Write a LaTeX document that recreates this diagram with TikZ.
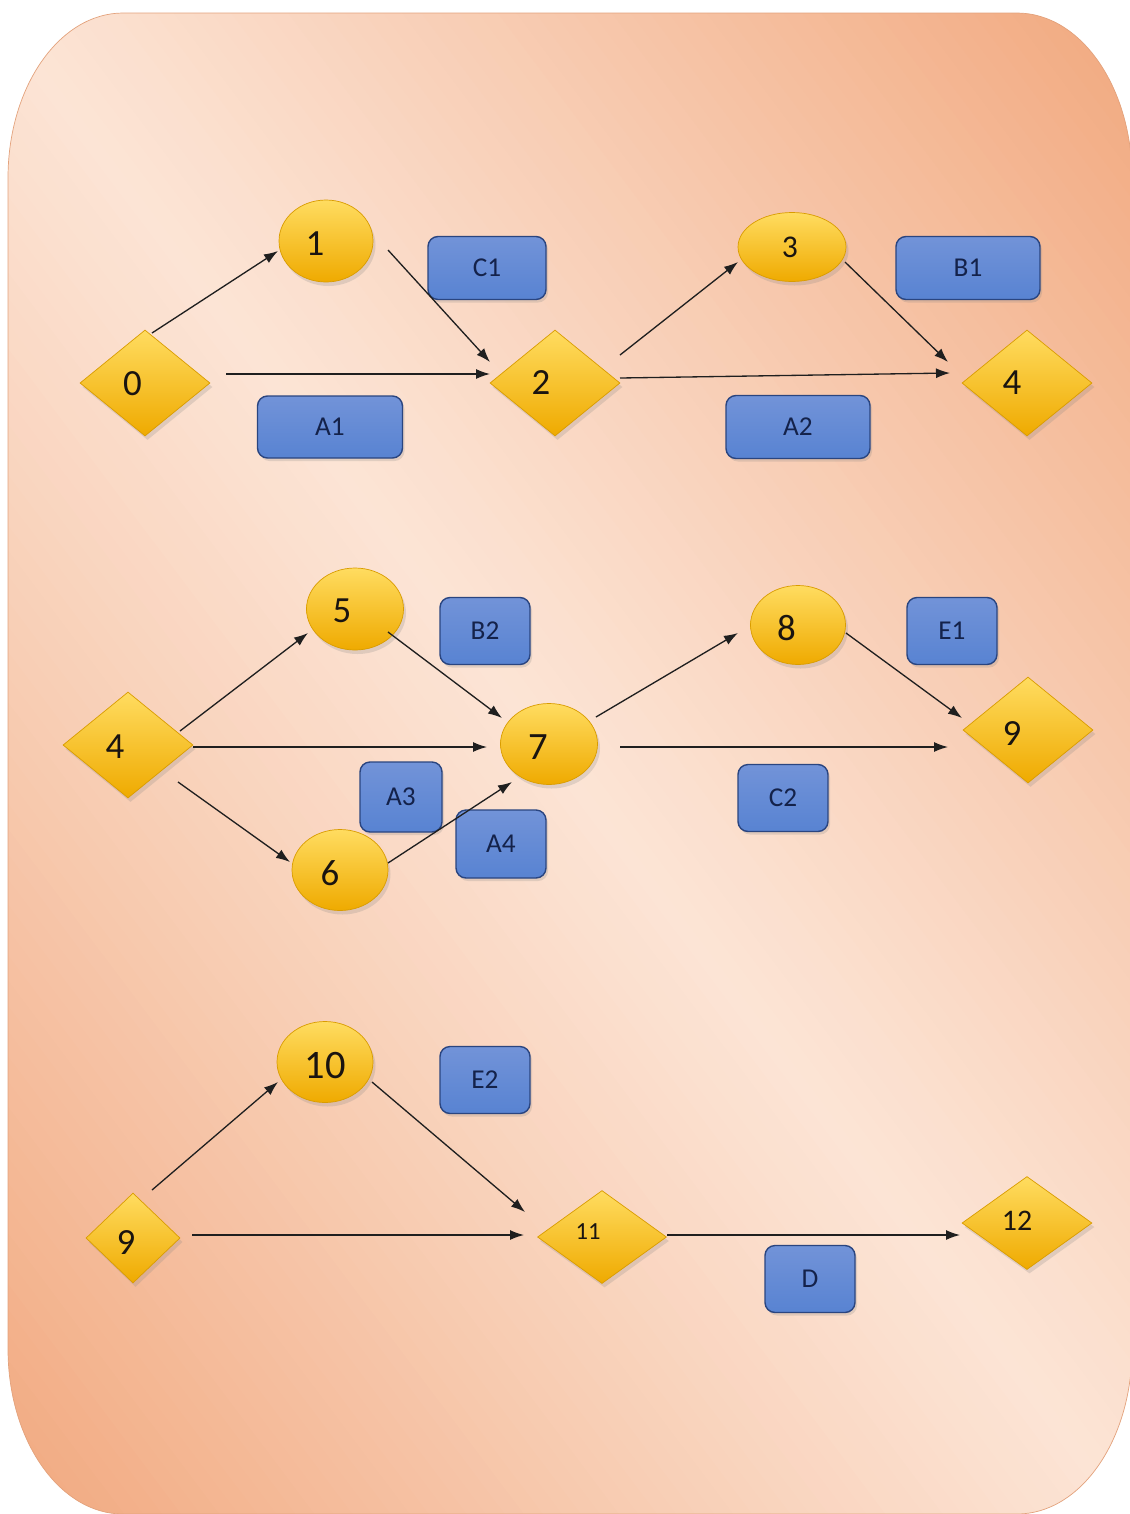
\documentclass[tikz,border=0pt]{standalone}
\usepackage{fontspec}
\setmainfont{Carlito}
\usetikzlibrary{shapes.geometric,arrows.meta,calc,shadows}
\definecolor{bgdark}{HTML}{F1A87E}
\definecolor{bglight}{HTML}{FCE4D5}
\definecolor{bgedge}{HTML}{E3A27C}
\definecolor{yelL}{HTML}{FFDC60}
\definecolor{yelM}{HTML}{FFC520}
\definecolor{yelD}{HTML}{EFAA00}
\definecolor{yelEdge}{HTML}{D99C00}
\definecolor{bluT}{HTML}{7293D8}
\definecolor{bluM}{HTML}{3B64B6}
\definecolor{bluB}{HTML}{5883D2}
\definecolor{bluEdge}{HTML}{2A4580}
\definecolor{navy}{HTML}{14224A}
\definecolor{numcol}{HTML}{1A1410}
\tikzset{
  yshape/.style={draw=yelEdge, line width=0.4pt, top color=yelL, middle color=yelM, bottom color=yelD,
    inner sep=0pt, drop shadow={opacity=0.22, shadow xshift=0.5mm, shadow yshift=-0.8mm}},
  dia/.style={yshape, diamond, minimum width=26mm, minimum height=21.2mm},
  ell/.style={yshape, ellipse, minimum width=19.2mm, minimum height=16.2mm},
  num/.style={font=\fontsize{21}{23}\selectfont, text=numcol, inner sep=0pt},
  bbox/.style={rectangle, rounded corners=2mm, draw=bluEdge, line width=0.8pt,
    top color=bluT, middle color=bluM, bottom color=bluB, text=navy,
    font=\fontsize{15.5}{17}\selectfont, minimum width=18mm, minimum height=13.4mm,
    drop shadow={opacity=0.22, shadow xshift=0.4mm, shadow yshift=-0.6mm}},
  arr/.style={-{Latex[length=2.8mm,width=2mm]}, line width=0.75pt, draw=black!88},
}
\begin{document}
\begin{tikzpicture}[x=0.2mm, y=-0.2mm]
\useasboundingbox (0,0) rectangle (1130,1514);
% background
\def\bgpath{(123,13) -- (1017,13) .. controls (1080.5,13) and (1132,86.9) .. (1132,178)
  -- (1132,1349) .. controls (1132,1440.1) and (1080.5,1514) .. (1017,1514)
  -- (123,1514) .. controls (59.5,1514) and (8,1440.1) .. (8,1349)
  -- (8,178) .. controls (8,86.9) and (59.5,13) .. (123,13) -- cycle}
\coordinate (bgc) at (565,763);
\begin{scope}
  \clip \bgpath;
  \foreach \i in {0,...,119}{
    \pgfmathsetmacro{\da}{-910+\i*15.2}
    \pgfmathsetmacro{\db}{\da+17}
    \pgfmathsetmacro{\dm}{abs(\da+7.6)/910}
    \pgfmathsetmacro{\pc}{min(100,100*(\dm^1.1))}
    \fill[bgdark!\pc!bglight]
      ($(bgc)+\da*(0.7993,-0.6017)+1200*(0.6017,0.7993)$) --
      ($(bgc)+\db*(0.7993,-0.6017)+1200*(0.6017,0.7993)$) --
      ($(bgc)+\db*(0.7993,-0.6017)-1200*(0.6017,0.7993)$) --
      ($(bgc)+\da*(0.7993,-0.6017)-1200*(0.6017,0.7993)$) -- cycle;
  }
\end{scope}
\draw[bgedge, line width=0.4pt] \bgpath;

% ---------- row 1 ----------
\node[dia, label={[num, xshift=-2.5mm, yshift=-0.2mm]center:0}] (d0) at (145,383) {};
\node[ell, minimum width=18.8mm, minimum height=16.4mm, label={[num, xshift=-2.2mm, yshift=-0.6mm]center:1}] (e1) at (326,241) {};
\node[bbox, minimum width=23.6mm, minimum height=12.6mm] (c1) at (487,268) {C1};
\node[dia, label={[num, xshift=-2.8mm]center:2}] (d2) at (555,383) {};
\node[bbox, minimum width=29mm, minimum height=12.4mm] (a1) at (330,427) {A1};
\node[ell, minimum width=21.6mm, minimum height=13.8mm, label={[num, font=\fontsize{18}{20}\selectfont, xshift=-0.4mm]center:3}] (e3) at (792,247) {};
\node[bbox, minimum width=28.8mm, minimum height=12.6mm] (b1) at (968,268) {B1};
\node[dia, label={[num, xshift=-3mm]center:4}] (d4) at (1027,383) {};
\node[bbox, minimum width=28.8mm, minimum height=12.6mm] (a2) at (798,427) {A2};

% ---------- row 2 ----------
\node[dia, label={[num, xshift=-2.6mm, yshift=-0.4mm]center:4}] (d4b) at (128,745) {};
\node[ell, minimum width=19.4mm, minimum height=16.4mm, label={[num, xshift=-2.6mm, yshift=-0.4mm]center:5}] (e5) at (355,609) {};
\node[bbox] (b2) at (485,631) {B2};
\node[bbox, minimum width=16.4mm, minimum height=14mm] (a3) at (401,797) {A3};
\node[bbox, minimum height=13.6mm] (a4) at (501,844) {A4};
\node[ell, label={[num, xshift=-2mm, yshift=-0.6mm]center:6}] (e6) at (340,870) {};
\node[ell, minimum width=19.4mm, label={[num, font=\fontsize{22}{24}\selectfont, xshift=-2.2mm, yshift=-0.6mm]center:7}] (e7) at (549,744) {};
\node[ell, minimum width=19mm, minimum height=15.8mm, label={[num, xshift=-2.3mm, yshift=-0.6mm]center:8}] (e8) at (798,625) {};
\node[bbox] (e1b) at (952,631) {E1};
\node[dia, label={[num, xshift=-3.2mm, yshift=-0.8mm]center:9}] (d9) at (1028,730) {};
\node[bbox] (c2) at (783,798) {C2};

% ---------- row 3 ----------
\node[dia, minimum width=18.8mm, minimum height=18mm, label={[num, xshift=-1.4mm, yshift=-1mm]center:9}] (d9b) at (133,1238) {};
\node[ell, label={[num, font=\fontsize{23}{25}\selectfont, yshift=-0.8mm]center:10}] (e10) at (325,1062) {};
\node[bbox] (e2) at (485,1080) {E2};
\node[dia, minimum width=25.8mm, minimum height=18.6mm, label={[num, font=\fontsize{14}{16}\selectfont, xshift=-2.8mm, yshift=1mm]center:11}] (d11) at (602,1237) {};
\node[dia, minimum height=18.6mm, label={[num, font=\fontsize{17}{19}\selectfont, xshift=-2mm, yshift=0.4mm]center:12}] (d12) at (1027,1223) {};
\node[bbox] (dd) at (810,1279) {D};

% ---------- connectors ----------
\draw[arr] ($(d0)+(7,-50)$) -- ($(e1)+(-48,10)$);
\draw[arr] ($(e1)+(62,9)$) -- ($(d2)+(-65,-21)$);
\draw[arr] ($(d0)+(81,-9)$) -- ($(d2)+(-65,-9)$);
\draw[arr] ($(d2)+(65,-28)$) -- ($(e3)+(-54,15)$);
\draw[arr] ($(e3)+(53,15)$) -- ($(d4)+(-79,-21)$);
\draw[arr] ($(d2)+(65,-5)$) -- ($(d4)+(-77,-10)$);

\draw[arr] ($(d4b)+(52,-14)$) -- ($(e5)+(-47,24)$);
\draw[arr] ($(d4b)+(65,2)$) -- ($(e7)+(-62,3)$);
\draw[arr] ($(d4b)+(50,37)$) -- ($(e6)+(-50,-8)$);
\draw[arr] ($(e5)+(33,23)$) -- ($(e7)+(-47,-26)$);
\draw[arr] ($(e6)+(48,-7)$) -- ($(e7)+(-37,38)$);
\draw[arr] ($(e7)+(47,-27)$) -- ($(e8)+(-60,8)$);
\draw[arr] ($(e7)+(71,3)$) -- ($(d9)+(-80,17)$);
\draw[arr] ($(e8)+(48,8)$) -- ($(d9)+(-66,-12)$);

\draw[arr] ($(d9b)+(19,-48)$) -- ($(e10)+(-47,20)$);
\draw[arr] ($(e10)+(47,20)$) -- ($(d11)+(-77,-25)$);
\draw[arr] ($(d9b)+(59,-3)$) -- ($(d11)+(-78,-2)$);
\draw[arr] ($(d11)+(65,-2)$) -- ($(d12)+(-67,12)$);
\end{tikzpicture}
\end{document}
